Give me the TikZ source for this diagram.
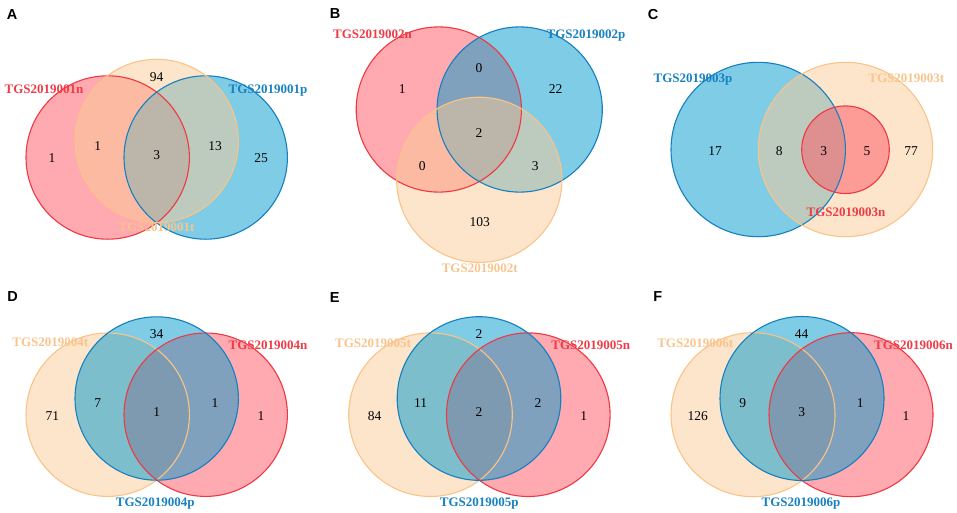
\documentclass[tikz,border=0pt]{standalone}
\usepackage{fontspec}
\setmainfont{Liberation Serif}
\newfontfamily\letterfont{Liberation Sans}
\definecolor{redF}{RGB}{255,85,97}
\definecolor{bluF}{RGB}{0,153,205}
\definecolor{orgF}{RGB}{251,203,151}
\definecolor{redS}{RGB}{238,56,66}
\definecolor{bluS}{RGB}{20,128,192}
\definecolor{orgS}{RGB}{250,195,135}
\definecolor{redT}{RGB}{238,60,70}
\definecolor{bluT}{RGB}{24,130,192}
\definecolor{orgT}{RGB}{249,196,140}
\tikzset{
  setfill/.style={fill=#1, fill opacity=0.5},
  setline/.style={draw=#1, line width=1.1pt},
  num/.style={font=\fontsize{13.5}{14}\selectfont, text=black, inner sep=0pt, text depth=0pt},
  lab/.style={font=\fontsize{13}{14}\selectfont\bfseries, text=#1, inner sep=0pt, text depth=0pt},
  panel/.style={font=\letterfont\fontsize{14.5}{15}\selectfont\bfseries, inner sep=0pt, text depth=0pt},
}
\begin{document}
\begin{tikzpicture}[x=1pt,y=-1pt]
\useasboundingbox (0,0) rectangle (957,512);
% ---------- Panel A ----------
\fill[setfill=redF] (107.7,157.5) circle[radius=81.7pt];
\fill[setfill=bluF] (205.7,157.5) circle[radius=81.7pt];
\fill[setfill=orgF] (156.7,141) circle[radius=81.7pt];
\draw[setline=redS] (107.7,157.5) circle[radius=81.7pt];
\draw[setline=bluS] (205.7,157.5) circle[radius=81.7pt];
\draw[setline=orgS] (156.7,141) circle[radius=81.7pt];
% ---------- Panel B ----------
\fill[setfill=redF] (438.8,109.5) circle[radius=82.6pt];
\fill[setfill=bluF] (519.7,109.5) circle[radius=82.6pt];
\fill[setfill=orgF] (479.3,179.8) circle[radius=82.6pt];
\draw[setline=redS] (438.8,109.5) circle[radius=82.6pt];
\draw[setline=bluS] (519.7,109.5) circle[radius=82.6pt];
\draw[setline=orgS] (479.3,179.8) circle[radius=82.6pt];
% ---------- Panel C ----------
\fill[setfill=bluF] (758.2,149.5) circle[radius=87.2pt];
\fill[setfill=orgF] (845.5,149.5) circle[radius=87.2pt];
\fill[setfill=redF] (845.5,149.7) circle[radius=43.8pt];
\draw[setline=bluS] (758.2,149.5) circle[radius=87.2pt];
\draw[setline=orgS] (845.5,149.5) circle[radius=87.2pt];
\draw[setline=redS] (845.5,149.7) circle[radius=43.8pt];
% ---------- Panel D ----------
\fill[setfill=orgF] (107.7,414.7) circle[radius=81.7pt];
\fill[setfill=redF] (205.7,414.7) circle[radius=81.7pt];
\fill[setfill=bluF] (156.7,398.5) circle[radius=81.7pt];
\draw[setline=orgS] (107.7,414.7) circle[radius=81.7pt];
\draw[setline=redS] (205.7,414.7) circle[radius=81.7pt];
\draw[setline=bluS] (156.7,398.5) circle[radius=81.7pt];
% ---------- Panel E ----------
\fill[setfill=orgF] (430.5,414.7) circle[radius=81.8pt];
\fill[setfill=redF] (528.3,414.7) circle[radius=81.8pt];
\fill[setfill=bluF] (479,398.5) circle[radius=81.8pt];
\draw[setline=orgS] (430.5,414.7) circle[radius=81.8pt];
\draw[setline=redS] (528.3,414.7) circle[radius=81.8pt];
\draw[setline=bluS] (479,398.5) circle[radius=81.8pt];
% ---------- Panel F ----------
\fill[setfill=orgF] (753,414.7) circle[radius=82pt];
\fill[setfill=redF] (851,414.7) circle[radius=82pt];
\fill[setfill=bluF] (802,398.5) circle[radius=82pt];
\draw[setline=orgS] (753,414.7) circle[radius=82pt];
\draw[setline=redS] (851,414.7) circle[radius=82pt];
\draw[setline=bluS] (802,398.5) circle[radius=82pt];
% ---------- panel letters ----------
\node[panel] (pA) at (12,15) {A};
\node[panel] (pB) at (335,14) {B};
\node[panel] (pC) at (653,14) {C};
\node[panel] (pD) at (12.5,297) {D};
\node[panel] (pE) at (334.7,297.5) {E};
\node[panel] (pF) at (657.7,297) {F};
% ---------- labels ----------
\node[lab=redT] (lAn) at (44,89) {TGS2019001n};
\node[lab=bluT] (lAp) at (268,89) {TGS2019001p};
\node[lab=orgT] (lAt) at (156.5,227) {TGS2019001t};
\node[lab=redT] (lBn) at (372.5,34.3) {TGS2019002n};
\node[lab=bluT] (lBp) at (586,34.3) {TGS2019002p};
\node[lab=orgT] (lBt) at (479.7,268.3) {TGS2019002t};
\node[lab=bluT] (lCp) at (693,77.7) {TGS2019003p};
\node[lab=orgT] (lCt) at (906.3,77.7) {TGS2019003t};
\node[lab=redT] (lCn) at (846,211.7) {TGS2019003n};
\node[lab=orgT] (lDt) at (50.3,342) {TGS2019004t};
\node[lab=redT] (lDn) at (268,345.3) {TGS2019004n};
\node[lab=bluT] (lDp) at (155.3,502) {TGS2019004p};
\node[lab=orgT] (lEt) at (373,342.7) {TGS2019005t};
\node[lab=redT] (lEn) at (590.8,345.3) {TGS2019005n};
\node[lab=bluT] (lEp) at (479.2,502) {TGS2019005p};
\node[lab=orgT] (lFt) at (695.2,342.7) {TGS2019006t};
\node[lab=redT] (lFn) at (913.5,345.3) {TGS2019006n};
\node[lab=bluT] (lFp) at (801,502) {TGS2019006p};
% ---------- numbers A ----------
\node[num] (a1) at (156.7,77) {94};
\node[num] (a2) at (52,158) {1};
\node[num] (a3) at (97.7,145.7) {1};
\node[num] (a4) at (156.7,155) {3};
\node[num] (a5) at (215,145.7) {13};
\node[num] (a6) at (261,158) {25};
% ---------- numbers B ----------
\node[num] (b1) at (402.3,89) {1};
\node[num] (b2) at (479,68.3) {0};
\node[num] (b3) at (555.7,89) {22};
\node[num] (b4) at (479,133.3) {2};
\node[num] (b5) at (422.3,165.7) {0};
\node[num] (b6) at (535.3,165.7) {3};
\node[num] (b7) at (479.7,221.7) {103};
% ---------- numbers C ----------
\node[num] (c1) at (715,150.7) {17};
\node[num] (c2) at (779.3,150.7) {8};
\node[num] (c3) at (823.7,150.7) {3};
\node[num] (c4) at (867,150.7) {5};
\node[num] (c5) at (911,150.7) {77};
% ---------- numbers D ----------
\node[num] (d1) at (156.7,334.3) {34};
\node[num] (d2) at (97.7,402.7) {7};
\node[num] (d3) at (52.3,416) {71};
\node[num] (d4) at (156.7,412) {1};
\node[num] (d5) at (215,402.7) {1};
\node[num] (d6) at (261,416) {1};
% ---------- numbers E ----------
\node[num] (e1) at (479,334.3) {2};
\node[num] (e2) at (420.7,402.7) {11};
\node[num] (e3) at (374.7,416) {84};
\node[num] (e4) at (479,412) {2};
\node[num] (e5) at (538,402.7) {2};
\node[num] (e6) at (583.7,416) {1};
% ---------- numbers F ----------
\node[num] (f1) at (801.7,334.3) {44};
\node[num] (f2) at (742.7,402.7) {9};
\node[num] (f3) at (697.7,416) {126};
\node[num] (f4) at (801.7,412) {3};
\node[num] (f5) at (860.3,402.7) {1};
\node[num] (f6) at (906,416) {1};
\end{tikzpicture}
\end{document}
